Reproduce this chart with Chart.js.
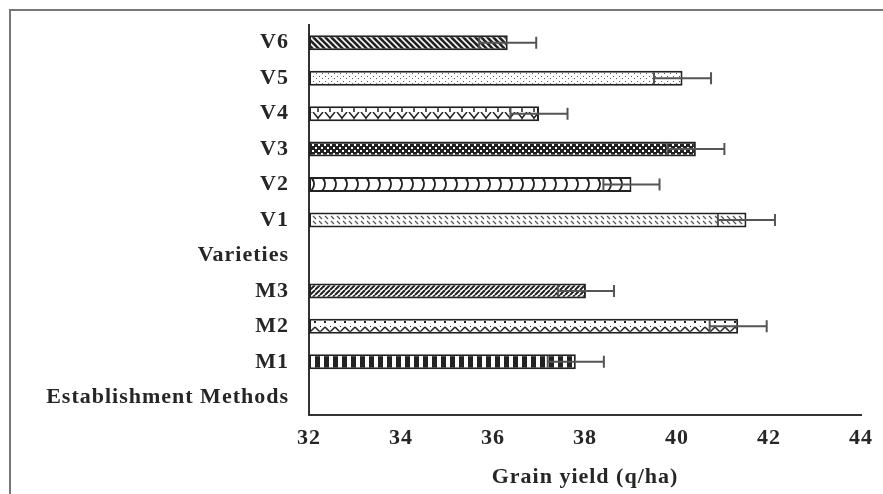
<!DOCTYPE html>
<html>
<head>
<meta charset="utf-8">
<script src="https://cdn.jsdelivr.net/npm/chart.js@4/dist/chart.umd.min.js"></script>
<style>
  html, body { margin: 0; padding: 0; background: #fff; }
  #wrap { position: relative; width: 883px; height: 494px; }
</style>
</head>
<body>
<div id="wrap"><canvas id="c" width="883" height="494"></canvas></div>
<script>
// ---- data ----
const categories = ['V6', 'V5', 'V4', 'V3', 'V2', 'V1', 'Varieties', 'M3', 'M2', 'M1', 'Establishment Methods'];
const grainYield = [36.32, 40.12, 37.0, 40.41, 39.01, 41.51, null, 38.02, 41.33, 37.80, null];
const stdError   = [0.62, 0.62, 0.62, 0.62, 0.61, 0.62, null, 0.61, 0.62, 0.61, null];
const xTicks = [32, 34, 36, 38, 40, 42, 44];
const xTitle = 'Grain yield (q/ha)';

// ---- hatch patterns ----
const INK = '#222';
function makePattern(w, h, draw) {
  const c = document.createElement('canvas');
  c.width = w; c.height = h;
  const x = c.getContext('2d');
  x.fillStyle = '#fff';
  x.fillRect(0, 0, w, h);
  draw(x, w, h);
  return x.createPattern(c, 'repeat');
}
function lines(x, segs, lw, col) {
  x.strokeStyle = col || INK; x.lineWidth = lw;
  x.beginPath();
  segs.forEach(s => { x.moveTo(s[0], s[1]); x.lineTo(s[2], s[3]); });
  x.stroke();
}
const pDiagDown = makePattern(6, 6, (x) => lines(x, [[-6,0,0,6],[0,0,6,6],[6,0,12,6],[-3,-3,3,3],[3,-3,9,3],[3,3,9,9],[-3,3,3,9]], 2.6));
const pDots = makePattern(6, 5, (x) => { x.fillStyle = '#555'; x.fillRect(1,1,1,1); x.fillRect(4,3,1,1); });
const pY = makePattern(12, 16, (x) => lines(x, [[1,0,6,6],[11,0,6,6],[6,6,6,16]], 1.5));
const pConfetti = makePattern(6, 6, (x) => { x.fillStyle = INK; x.fillRect(0,0,6,6); x.fillStyle = '#fff'; x.fillRect(0,0,2,2); x.fillRect(3,3,2,2); });
const pScales = makePattern(11, 16, (x) => {
  x.strokeStyle = INK; x.lineWidth = 1.8;
  x.beginPath(); x.arc(-3, 8, 9, -1.0, 1.0); x.stroke();
});
const pLightDiag = makePattern(6, 5, (x) => lines(x, [[1,1,4,4]], 1.2, '#555'));
const pDiagUp = makePattern(5, 5, (x) => lines(x, [[-5,5,0,0],[0,5,5,0],[5,5,10,0]], 2.0));
const pWave = makePattern(10, 12, (x) => {
  lines(x, [[0,8,5,3],[5,3,10,8]], 1.5);
  x.fillStyle = INK; x.fillRect(4,9,2,2); x.fillRect(0,2,1,1);
});
const pVert = makePattern(9, 2, (x) => { x.fillStyle = INK; x.fillRect(0,0,5,2); });

const fills = [pDiagDown, pDots, pY, pConfetti, pScales, pLightDiag, null, pDiagUp, pWave, pVert, null];

// ---- plugins ----
const spacingPlugin = {
  id: 'spacing',
  beforeUpdate(chart) { chart.ctx.letterSpacing = '1px'; },
  beforeDraw(chart) { chart.ctx.letterSpacing = '1px'; }
};

const framePlugin = {
  id: 'frame',
  beforeDraw(chart) {
    const ctx = chart.ctx;
    ctx.save();
    ctx.strokeStyle = '#777';
    ctx.lineWidth = 2;
    ctx.beginPath();
    ctx.moveTo(10, 494);
    ctx.lineTo(10, 10);
    ctx.lineTo(883, 10);
    ctx.stroke();
    ctx.restore();
  }
};

const errorBarPlugin = {
  id: 'errorBars',
  afterDatasetsDraw(chart) {
    const ctx = chart.ctx;
    const xs = chart.scales.x;
    const meta = chart.getDatasetMeta(0);
    ctx.save();
    ctx.strokeStyle = '#555';
    ctx.lineWidth = 2;
    grainYield.forEach((v, i) => {
      if (v == null || stdError[i] == null) return;
      const y = meta.data[i].y;
      const x1 = xs.getPixelForValue(v - stdError[i]);
      const x2 = xs.getPixelForValue(v + stdError[i]);
      ctx.beginPath();
      ctx.moveTo(x1, y); ctx.lineTo(x2, y);
      ctx.moveTo(x1, y - 6); ctx.lineTo(x1, y + 6);
      ctx.moveTo(x2, y - 6); ctx.lineTo(x2, y + 6);
      ctx.stroke();
    });
    ctx.restore();
  }
};

const FONT = { family: '"Liberation Serif", "Times New Roman", serif', size: 22, weight: 'bold' };
const TXT = '#262626';

new Chart(document.getElementById('c'), {
  type: 'bar',
  data: {
    labels: categories,
    datasets: [{
      data: grainYield,
      base: 32,
      backgroundColor: fills,
      borderColor: INK,
      borderWidth: 2,
      borderSkipped: false,
      barPercentage: 0.9,
      categoryPercentage: 0.47
    }]
  },
  options: {
    indexAxis: 'y',
    responsive: false,
    animation: false,
    devicePixelRatio: 1,
    layout: { padding: { top: 25, right: 22, left: 0, bottom: 0 } },
    plugins: { legend: { display: false }, tooltip: { enabled: false } },
    scales: {
      x: {
        type: 'linear',
        min: xTicks[0],
        max: xTicks[xTicks.length - 1],
        afterBuildTicks(scale) { scale.ticks = xTicks.map(v => ({ value: v })); },
        afterFit(scale) { scale.height = 79; },
        grid: { display: false, drawTicks: false },
        border: { display: true, color: '#333', width: 2 },
        ticks: { color: TXT, font: FONT, padding: 10 },
        title: { display: true, text: xTitle, color: TXT, font: FONT, padding: { top: 4, bottom: 3 } }
      },
      y: {
        type: 'category',
        afterFit(scale) { scale.width = 309; scale.paddingTop = 0; scale.paddingBottom = 0; },
        grid: { display: false, drawTicks: false },
        border: { display: true, color: '#333', width: 2 },
        ticks: { color: TXT, font: FONT, padding: 20, autoSkip: false }
      }
    }
  },
  plugins: [spacingPlugin, framePlugin, errorBarPlugin]
});
</script>
</body>
</html>
